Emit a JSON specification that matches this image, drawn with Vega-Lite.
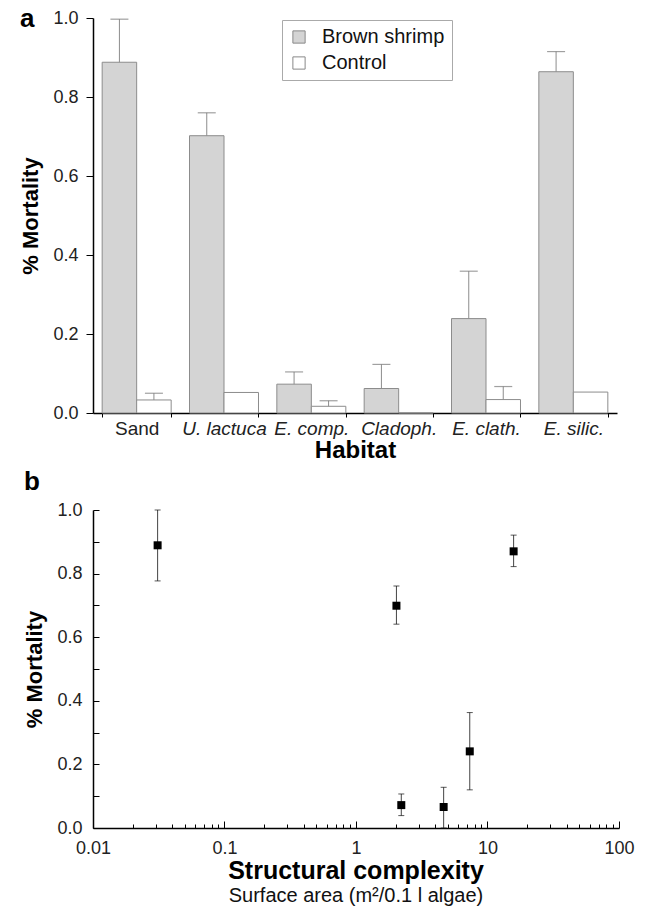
{
  "$schema": "https://vega.github.io/schema/vega-lite/v6.json",
  "padding": {"left": 19, "top": 6, "right": 5, "bottom": 0},
  "spacing": 7,
  "config": {
    "font": "Liberation Sans",
    "view": {"stroke": null},
    "axis": {"grid": false, "domainColor": "#000", "domainWidth": 1.5, "tickColor": "#000", "labelColor": "#222", "titleColor": "#000", "labelFont": "Liberation Sans", "titleFont": "Liberation Sans"}
  },
  "datasets": {
    "habitat": [
      {"habitat": "Sand", "treatment": "Brown shrimp", "mortality": 0.888, "upper": 0.997},
      {"habitat": "Sand", "treatment": "Control", "mortality": 0.033, "upper": 0.050},
      {"habitat": "U. lactuca", "treatment": "Brown shrimp", "mortality": 0.702, "upper": 0.760},
      {"habitat": "U. lactuca", "treatment": "Control", "mortality": 0.052, "upper": null},
      {"habitat": "E. comp.", "treatment": "Brown shrimp", "mortality": 0.073, "upper": 0.104},
      {"habitat": "E. comp.", "treatment": "Control", "mortality": 0.017, "upper": 0.031},
      {"habitat": "Cladoph.", "treatment": "Brown shrimp", "mortality": 0.062, "upper": 0.123},
      {"habitat": "Cladoph.", "treatment": "Control", "mortality": 0.0, "upper": null},
      {"habitat": "E. clath.", "treatment": "Brown shrimp", "mortality": 0.239, "upper": 0.359},
      {"habitat": "E. clath.", "treatment": "Control", "mortality": 0.034, "upper": 0.067},
      {"habitat": "E. silic.", "treatment": "Brown shrimp", "mortality": 0.864, "upper": 0.915},
      {"habitat": "E. silic.", "treatment": "Control", "mortality": 0.053, "upper": null}
    ],
    "complexity": [
      {"habitat": "Sand", "complexity": 0.031, "mortality": 0.889, "lo": 0.777, "hi": 1.0},
      {"habitat": "U. lactuca", "complexity": 2.03, "mortality": 0.699, "lo": 0.641, "hi": 0.761},
      {"habitat": "E. comp.", "complexity": 2.21, "mortality": 0.072, "lo": 0.039, "hi": 0.107},
      {"habitat": "Cladoph.", "complexity": 4.64, "mortality": 0.066, "lo": 0.0, "hi": 0.128},
      {"habitat": "E. clath.", "complexity": 7.33, "mortality": 0.241, "lo": 0.120, "hi": 0.363},
      {"habitat": "E. silic.", "complexity": 15.8, "mortality": 0.870, "lo": 0.822, "hi": 0.921}
    ]
  },
  "vconcat": [
    {
      "title": {"text": "a", "anchor": "start", "frame": "bounds", "fontSize": 26, "fontWeight": "bold", "baseline": "alphabetic", "offset": -28, "dy": 16, "color": "#000"},
      "width": 524,
      "height": 395,
      "data": {"name": "habitat"},
      "encoding": {
        "x": {
          "field": "habitat", "type": "nominal",
          "sort": ["Sand", "U. lactuca", "E. comp.", "Cladoph.", "E. clath.", "E. silic."],
          "scale": {"paddingInner": 0.21, "paddingOuter": 0.105},
          "axis": {
            "title": "Habitat", "titleFontSize": 24, "titleFontWeight": "bold", "titlePadding": 0,
            "labelAngle": 0, "labelFontSize": 19, "labelPadding": 2,
            "labelFontStyle": {"condition": {"test": "datum.value == 'Sand'", "value": "normal"}, "value": "italic"},
            "tickBand": "extent", "tickSize": 4
          }
        },
        "xOffset": {"field": "treatment", "type": "nominal", "sort": ["Brown shrimp", "Control"], "scale": {"paddingInner": 0, "paddingOuter": 0}}
      },
      "layer": [
        {
          "mark": {"type": "bar", "stroke": "#8c8c8c", "strokeWidth": 1},
          "encoding": {
            "y": {
              "field": "mortality", "type": "quantitative",
              "scale": {"domain": [0, 1], "nice": false},
              "axis": {
                "title": "% Mortality", "titleFontSize": 22, "titleFontWeight": "bold", "titlePadding": 10,
                "values": [0, 0.1, 0.2, 0.3, 0.4, 0.5, 0.6, 0.7, 0.8, 0.9, 1.0],
                "labelExpr": "round(datum.value*10) % 2 == 0 ? format(datum.value, '.1f') : ''",
                "labelFontSize": 18, "tickSize": 7, "labelPadding": 8
              }
            },
            "fill": {
              "field": "treatment", "type": "nominal",
              "scale": {"domain": ["Brown shrimp", "Control"], "range": ["#d4d4d4", "#ffffff"]},
              "legend": {
                "title": null, "orient": "none", "legendX": 189, "legendY": 2, "direction": "vertical",
                "symbolType": "square", "symbolSize": 150, "symbolStrokeColor": "#888", "symbolStrokeWidth": 1,
                "labelFontSize": 20, "labelColor": "#111", "labelOffset": 13,
                "fillColor": "#ffffff", "strokeColor": "#aaaaaa", "padding": 7, "rowPadding": 6
              }
            }
          }
        },
        {
          "transform": [{"filter": "datum.upper != null"}],
          "mark": {"type": "rule", "color": "#8c8c8c", "strokeWidth": 1},
          "encoding": {
            "y": {"field": "mortality", "type": "quantitative"},
            "y2": {"field": "upper"}
          }
        },
        {
          "transform": [{"filter": "datum.upper != null"}],
          "mark": {"type": "tick", "color": "#777", "thickness": 1.2, "size": 18},
          "encoding": {
            "y": {"field": "upper", "type": "quantitative"}
          }
        }
      ]
    },
    {
      "title": {"text": "b", "anchor": "start", "frame": "bounds", "fontSize": 26, "fontWeight": "bold", "baseline": "alphabetic", "offset": -15, "color": "#000"},
      "vconcat": [
        {
          "title": {"text": "Structural complexity", "subtitle": "Surface area (m²/0.1 l algae)", "orient": "bottom", "anchor": "middle", "fontSize": 25, "fontWeight": "bold", "color": "#000", "subtitleFontSize": 20, "subtitleColor": "#111", "subtitlePadding": 2, "offset": 2},
          "width": 526,
          "height": 318,
          "data": {"name": "complexity"},
          "encoding": {
            "x": {
              "field": "complexity", "type": "quantitative",
              "scale": {"type": "log", "domain": [0.01, 100], "nice": false},
              "axis": {
                "title": null,
                "values": [0.01, 0.02, 0.03, 0.04, 0.05, 0.06, 0.07, 0.08, 0.09, 0.1, 0.2, 0.3, 0.4, 0.5, 0.6, 0.7, 0.8, 0.9, 1, 2, 3, 4, 5, 6, 7, 8, 9, 10, 20, 30, 40, 50, 60, 70, 80, 90, 100],
                "labelExpr": "indexof([0.01, 0.1, 1, 10, 100], datum.value) >= 0 ? '' + datum.value : ''",
                "tickSize": {"condition": {"test": "indexof([0.01, 0.1, 1, 10, 100], datum.value) >= 0", "value": -7}, "value": -4},
                "labelFontSize": 18, "labelPadding": 18, "labelFlush": false
              }
            },
            "y": {
              "field": "mortality", "type": "quantitative",
              "scale": {"domain": [0, 1], "nice": false},
              "axis": {
                "title": "% Mortality", "titleFontSize": 22, "titleFontWeight": "bold", "titlePadding": 10,
                "values": [0, 0.1, 0.2, 0.3, 0.4, 0.5, 0.6, 0.7, 0.8, 0.9, 1.0],
                "labelExpr": "round(datum.value*10) % 2 == 0 ? format(datum.value, '.1f') : ''",
                "labelFontSize": 18, "tickSize": -6, "labelPadding": 17
              }
            }
          },
          "layer": [
            {
              "mark": {"type": "rule", "color": "#444", "strokeWidth": 1},
              "encoding": {
                "y": {"field": "lo", "type": "quantitative"},
                "y2": {"field": "hi"}
              }
            },
            {
              "mark": {"type": "tick", "orient": "horizontal", "color": "#111", "thickness": 1, "size": 6},
              "encoding": {"y": {"field": "hi", "type": "quantitative"}}
            },
            {
              "mark": {"type": "tick", "orient": "horizontal", "color": "#111", "thickness": 1, "size": 6},
              "encoding": {"y": {"field": "lo", "type": "quantitative"}}
            },
            {
              "mark": {"type": "square", "filled": true, "color": "#000", "opacity": 1, "size": 64},
              "encoding": {}
            }
          ]
        }
      ]
    }
  ]
}
